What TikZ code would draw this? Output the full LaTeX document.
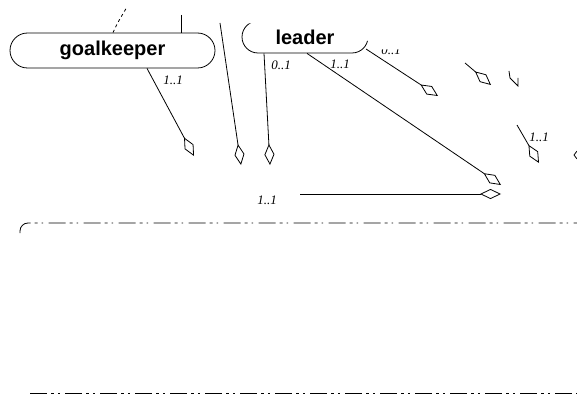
\documentclass[tikz,border=0pt]{standalone}
\usepackage{fontspec}
\setmainfont{Liberation Serif}
\newfontfamily\hfont{Liberation Sans}
\usetikzlibrary{arrows.meta,shapes.misc,calc}
\begin{document}
\begin{tikzpicture}[x=1pt,y=-1pt,
  conn/.style={line width=0.8pt},
  agg/.style={line width=0.8pt,-{Diamond[open,length=21pt,width=10pt]}},
  cls/.style={rounded rectangle, draw, line width=0.8pt, inner sep=0pt,
    font=\hfont\bfseries\fontsize{20}{24}\selectfont},
  mult/.style={font=\itshape\fontsize{13}{15}\selectfont, inner sep=0pt},
  frameline/.style={line width=0.8pt, dash pattern=on 17pt off 4pt on 3pt off 4pt on 1.5pt off 5.5pt}]
\useasboundingbox (0,0) rectangle (577,398);
% classes
\node[cls, minimum width=205pt, minimum height=35pt] (goalkeeper) at (112.5,50.5) {goalkeeper};
\node[cls, minimum width=126pt, minimum height=32pt] (leader) at (305,37) {leader};
% loose ends and diamond tips
\coordinate (t0) at (181,15);
\coordinate (t1) at (220,23);
\coordinate (t2) at (127,7);
\coordinate (c1) at (366,49);
\coordinate (s4) at (465,63);
\coordinate (s5) at (517,125);
\coordinate (s6) at (300,194);
\coordinate (d1) at (194,156);
\coordinate (d2) at (241,165);
\coordinate (d3) at (270,165);
\coordinate (d4) at (501,185);
\coordinate (d5) at (438,96);
\coordinate (d6) at (491,85);
\coordinate (d7) at (539,163);
\coordinate (d8) at (501,194);
% connectors
\draw[conn] (t0) -- (goalkeeper.north -| t0);
\draw[conn, dash pattern=on 3pt off 3pt] ($(goalkeeper.north)+(0.5,0)$) .. controls (118,22) .. (t2);
\draw[agg] ($(goalkeeper.south)+(34.5,0)$) -- (d1);
\draw[agg] (t1) -- (d2);
\draw[agg] ($(leader.south)+(-41,0)$) -- (d3);
\draw[agg] ($(leader.south)+(2,0)$) -- (d4);
\draw[agg] (c1) -- (d5);
\draw[agg] (s4) -- (d6);
\draw[agg] (s5) -- (d7);
\draw[agg] (s6) -- (d8);
% partial diamonds
\coordinate (p1) at (509,71);
\coordinate (p2) at (518,78);
\draw[conn] (p1) -- (510,78) -- (518,86) -- (p2);
\coordinate (p3) at (577,151);
\coordinate (p4) at (577,159);
\draw[conn] (p3) -- (574,155) -- (p4);
% multiplicities
\node[mult] (m1) at (173,80) {1..1};
\node[mult] (m2) at (281,65) {0..1};
\node[mult] (m3) at (340,64) {1..1};
\node[mult] (m4) at (391,50) {0..1};
\node[mult] (m5) at (539,137) {1..1};
\node[mult] (m6) at (267,200) {1..1};
% clipped region
\fill[white] (244,0) -- (244,23.5) -- (338,23.5) -- (350,28) -- (372,44) -- (372,49.5) -- (412,49.5) -- (412,0) -- cycle;
% frame
\coordinate (f1) at (20,233);
\coordinate (f2) at (577,223);
\coordinate (f3) at (30,393);
\coordinate (f4) at (577,393);
\draw[frameline, rounded corners=8pt] (f1) |- (f2);
\draw[frameline] (f3) -- (f4);
\end{tikzpicture}
\end{document}
